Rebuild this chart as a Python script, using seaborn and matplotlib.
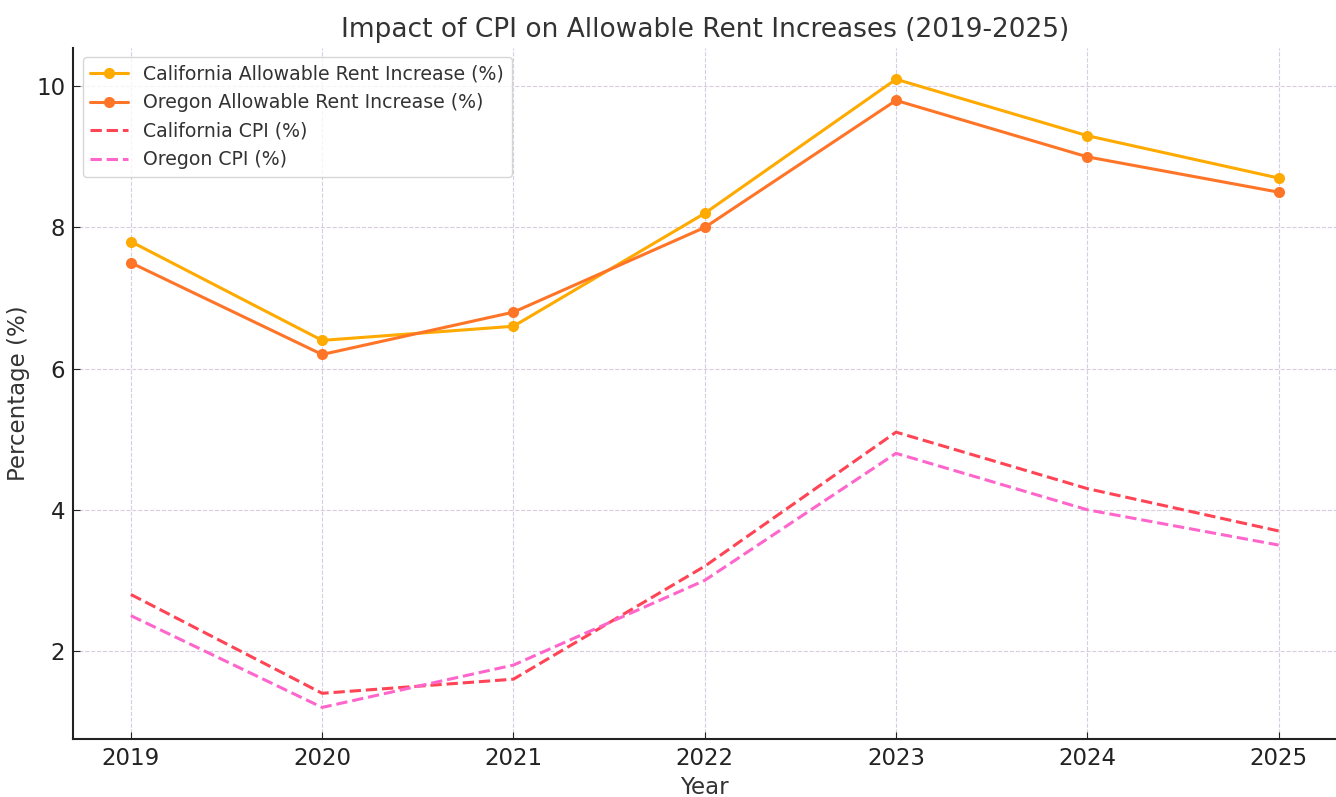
import matplotlib
matplotlib.use("Agg")
import matplotlib.pyplot as plt
import seaborn as sns
import pandas as pd

years = [2019, 2020, 2021, 2022, 2023, 2024, 2025]
ca_rent = [7.8, 6.4, 6.6, 8.2, 10.1, 9.3, 8.7]
or_rent = [7.5, 6.2, 6.8, 8.0, 9.8, 9.0, 8.5]
ca_cpi = [2.8, 1.4, 1.6, 3.2, 5.1, 4.3, 3.7]
or_cpi = [2.5, 1.2, 1.8, 3.0, 4.8, 4.0, 3.5]

df = pd.DataFrame({"Year": years, "ca_rent": ca_rent, "or_rent": or_rent,
                   "ca_cpi": ca_cpi, "or_cpi": or_cpi})

sns.set_style("ticks")
plt.rcParams["font.family"] = ["DejaVu Sans"]

fig, ax = plt.subplots(figsize=(13.36, 7.97), dpi=100)

# allowable rent increases (solid w/ markers)
sns.lineplot(data=df, x="Year", y="ca_rent", ax=ax, color="#FFAA00", marker="o",
             markersize=8, markeredgewidth=0, linewidth=2.2, label="California Allowable Rent Increase (%)")
sns.lineplot(data=df, x="Year", y="or_rent", ax=ax, color="#FF7528", marker="o",
             markersize=8, markeredgewidth=0, linewidth=2.2, label="Oregon Allowable Rent Increase (%)")
# CPI (dashed)
sns.lineplot(data=df, x="Year", y="ca_cpi", ax=ax, color="#FF4455", linestyle="--",
             linewidth=2.2, label="California CPI (%)")
sns.lineplot(data=df, x="Year", y="or_cpi", ax=ax, color="#FF66CC", linestyle="--",
             linewidth=2.2, label="Oregon CPI (%)")

ax.set_title("Impact of CPI on Allowable Rent Increases (2019-2025)", fontsize=19, color="#333333", pad=8)
ax.set_xlabel("Year", fontsize=16.5, color="#333333")
ax.set_ylabel("Percentage (%)", fontsize=16.5, color="#333333")
ax.set_xticks(years)
ax.tick_params(direction="in", labelsize=16.5, colors="#222222", length=5, pad=6)
ax.grid(True, linestyle="--", color="#d8cde0", linewidth=0.8)
sns.despine(ax=ax)
for s in ["left", "bottom"]:
    ax.spines[s].set_linewidth(1.5)
    ax.spines[s].set_color("#222222")

leg = ax.legend(loc="upper left", fontsize=13.6, frameon=True)
for t in leg.get_texts():
    t.set_color("#333333")

plt.subplots_adjust(left=0.055, right=1.0, top=0.94, bottom=0.073)
plt.savefig("out.png", dpi=100)
